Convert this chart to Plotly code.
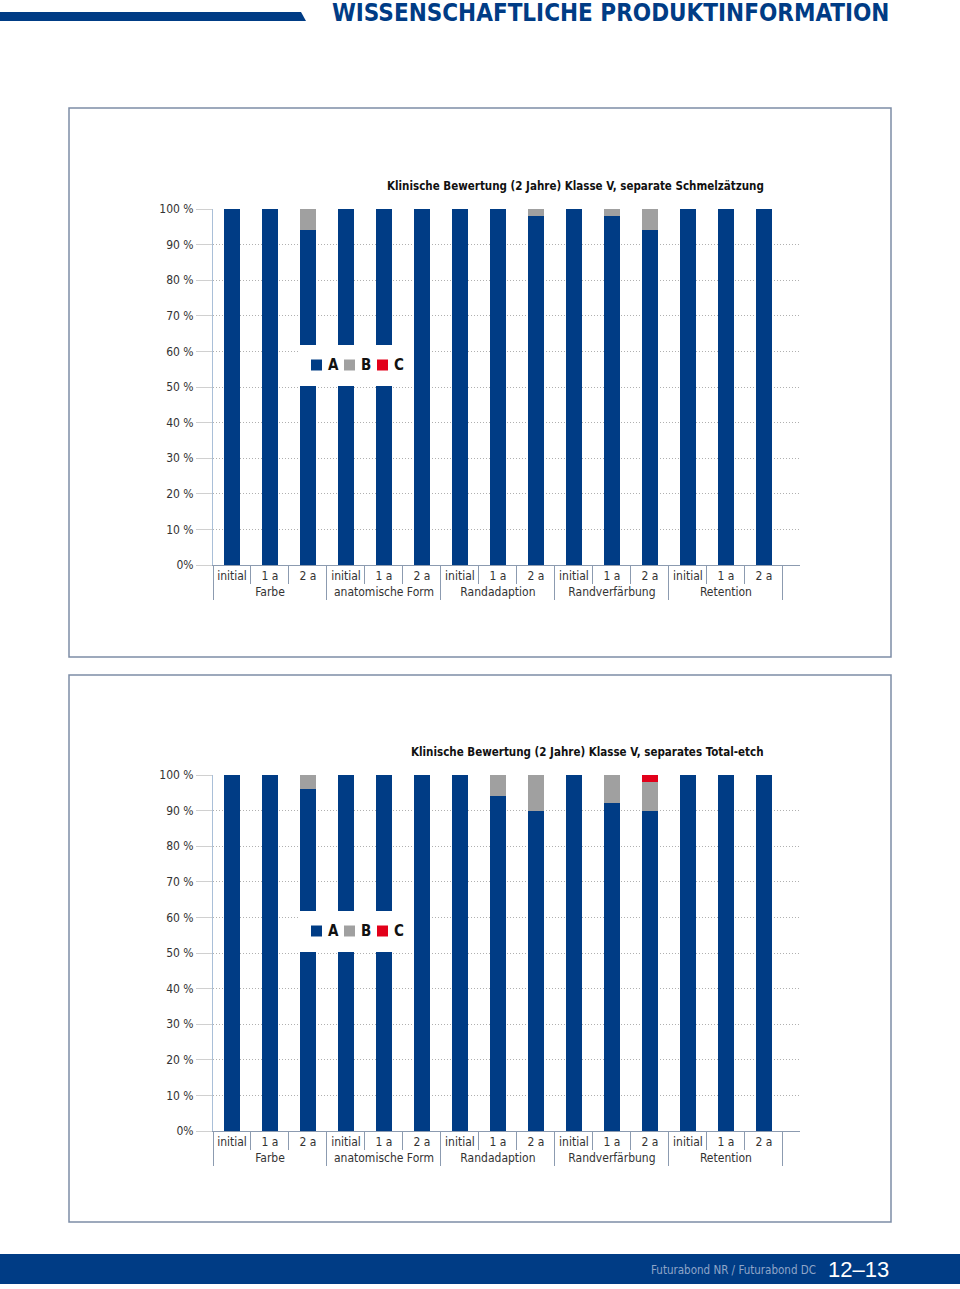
import plotly.graph_objects as go

W, H = 960, 1289

criteria = ["Farbe", "anatomische Form", "Randadaption", "Randverfärbung", "Retention"]
timepoints = ["initial", "1 a", "2 a"]

# Chart 1: separate Schmelzätzung
c1_A = [100, 100, 94, 100, 100, 100, 100, 100, 98, 100, 98, 94, 100, 100, 100]
c1_B = [0, 0, 6, 0, 0, 0, 0, 0, 2, 0, 2, 6, 0, 0, 0]
c1_C = [0, 0, 0, 0, 0, 0, 0, 0, 0, 0, 0, 0, 0, 0, 0]

# Chart 2: separates Total-etch
c2_A = [100, 100, 96, 100, 100, 100, 100, 94, 90, 100, 92, 90, 100, 100, 100]
c2_B = [0, 0, 4, 0, 0, 0, 0, 6, 10, 0, 8, 8, 0, 0, 0]
c2_C = [0, 0, 0, 0, 0, 0, 0, 0, 0, 0, 0, 2, 0, 0, 0]

titles = ["Klinische Bewertung (2 Jahre) Klasse V, separate Schmelzätzung",
          "Klinische Bewertung (2 Jahre) Klasse V, separates Total-etch"]

ytick_vals = [0, 10, 20, 30, 40, 50, 60, 70, 80, 90, 100]
ytick_text = ["0%", "10 %", "20 %", "30 %", "40 %", "50 %", "60 %", "70 %", "80 %", "90 %", "100 %"]

series_names = ["A", "B", "C"]
colors = ["#003c85", "#a0a0a0", "#e2001a"]

FONT = "Liberation Sans Narrow, DejaVu Sans Condensed, Arial Narrow, sans-serif"

outer = [c for c in criteria for _ in timepoints]
inner = [t for _ in criteria for t in timepoints]


def px(x):
    return x / W


def py(y):
    return 1 - y / H


fig = go.Figure()

datasets = [(c1_A, c1_B, c1_C), (c2_A, c2_B, c2_C)]
for i, ds in enumerate(datasets):
    xa = "x" if i == 0 else "x2"
    ya = "y" if i == 0 else "y2"
    for name, vals, col in zip(series_names, ds, colors):
        fig.add_trace(go.Bar(
            x=[outer, inner], y=vals, name=name, marker_color=col,
            marker_line_width=0, xaxis=xa, yaxis=ya, showlegend=False,
            hoverinfo="skip"))

plot_top = [209, 775]
plot_bot = [565, 1131]
x_dom = [px(213), px(800)]

axis_common_x = dict(
    type="multicategory", showgrid=False, showline=True, linecolor="#8c9bb0",
    linewidth=1, ticks="outside", tickson="boundaries", ticklen=18,
    tickcolor="#8c9bb0", showdividers=True, dividercolor="#8c9bb0",
    dividerwidth=1, tickfont=dict(family=FONT, size=12, color="#333333"),
    tickangle=0, automargin=False,
    range=[-0.5, 14.95], fixedrange=True,
)
axis_common_y = dict(
    range=[0, 100], tickvals=ytick_vals, ticktext=ytick_text,
    showgrid=True, gridcolor="#b0b0b0", griddash="1px,2px", gridwidth=1,
    ticks="outside", ticklen=16, tickcolor="#d0d0d0",
    showline=True, linecolor="#a9bfd8", linewidth=1, zeroline=False,
    automargin=False,
    tickfont=dict(family=FONT, size=12, color="#333333"), fixedrange=True,
)

fig.update_layout(
    width=W, height=H, margin=dict(l=0, r=0, t=0, b=0, pad=0, autoexpand=False),
    paper_bgcolor="white", plot_bgcolor="white",
    barmode="stack", bargap=0.58, showlegend=False,
    xaxis=dict(domain=x_dom, anchor="y", **axis_common_x),
    yaxis=dict(domain=[py(plot_bot[0]), py(plot_top[0])], anchor="x", **axis_common_y),
    xaxis2=dict(domain=x_dom, anchor="y2", **axis_common_x),
    yaxis2=dict(domain=[py(plot_bot[1]), py(plot_top[1])], anchor="x2", **axis_common_y),
)

shapes = []
annotations = []
# chart frames
for (y0, y1) in [(108, 657), (675, 1222)]:
    shapes.append(dict(type="rect", xref="paper", yref="paper",
                       x0=px(69), x1=px(891), y0=py(y1), y1=py(y0),
                       line=dict(color="#7d8da6", width=1.5), fillcolor="rgba(0,0,0,0)",
                       layer="below"))
# header bar
shapes.append(dict(type="path", xref="paper", yref="paper",
                   path=f"M {px(0)},{py(12)} L {px(301)},{py(12)} L {px(306)},{py(21)} L {px(0)},{py(21)} Z",
                   fillcolor="#003c85", line=dict(width=0)))
# footer band
shapes.append(dict(type="rect", xref="paper", yref="paper",
                   x0=0, x1=1, y0=py(1284), y1=py(1254),
                   fillcolor="#003c85", line=dict(width=0)))

# legends (one per chart): white box with colour squares and bold labels
for ytop in [345, 911]:
    shapes.append(dict(type="rect", xref="paper", yref="paper",
                       x0=px(300), x1=px(414), y0=py(ytop + 41), y1=py(ytop),
                       fillcolor="white", line=dict(width=0), layer="above"))
    yc = ytop + 20
    for i, (name, col) in enumerate(zip(series_names, colors)):
        x0 = 311 + 33 * i
        shapes.append(dict(type="rect", xref="paper", yref="paper",
                           x0=px(x0), x1=px(x0 + 11), y0=py(yc + 5.5), y1=py(yc - 5.5),
                           fillcolor=col, line=dict(width=0), layer="above"))
        annotations.append(dict(text=name, xref="paper", yref="paper",
                                x=px(x0 + 15), y=py(yc), xanchor="left", yanchor="middle",
                                showarrow=False,
                                font=dict(family=FONT, size=15, color="#111111", weight="bold")))

fig.update_layout(shapes=shapes)

annotations += [
    dict(text="WISSENSCHAFTLICHE PRODUKTINFORMATION", xref="paper", yref="paper",
         x=px(891), y=py(13), xanchor="right", yanchor="middle", showarrow=False,
         font=dict(family=FONT, size=24, color="#003c85", weight="bold")),
    dict(text="Futurabond NR / Futurabond DC", xref="paper", yref="paper",
         x=px(818), y=py(1270), xanchor="right", yanchor="middle", showarrow=False,
         font=dict(family=FONT, size=11.5, color="#8fa5c8")),
    dict(text="12–13", xref="paper", yref="paper",
         x=px(891), y=py(1269), xanchor="right", yanchor="middle", showarrow=False,
         font=dict(family="Liberation Sans, sans-serif", size=22, color="white")),
]
for t, ytop in zip(titles, [186, 752]):
    annotations.append(dict(text=t, xref="paper", yref="paper",
                            x=px(766), y=py(ytop), xanchor="right", yanchor="middle",
                            showarrow=False,
                            font=dict(family=FONT, size=11.5, color="#111111", weight="bold")))
fig.update_layout(annotations=annotations)

fig.write_html("out.html", config={"displayModeBar": False},
               post_script="document.body.style.margin='0px';")
